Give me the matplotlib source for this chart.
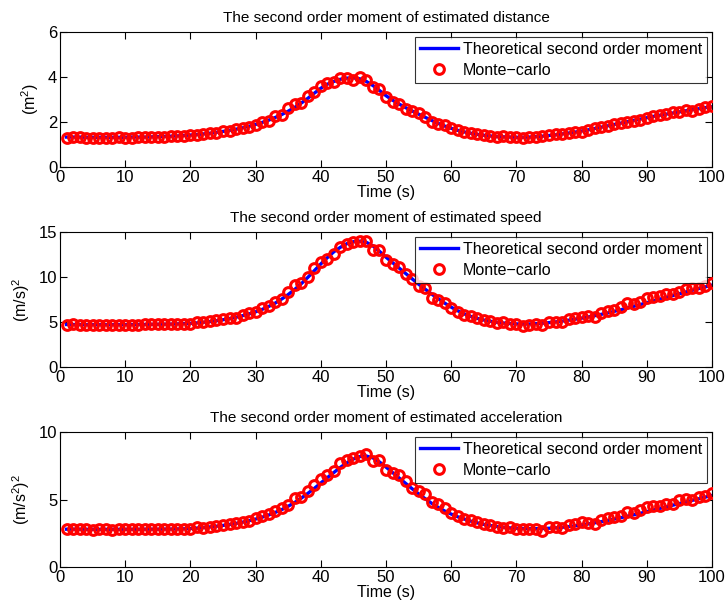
import matplotlib
matplotlib.use("Agg")
import matplotlib.pyplot as plt
import numpy as np

plt.rcParams['font.family'] = ['Liberation Sans', 'DejaVu Sans']
plt.rcParams['mathtext.fontset'] = 'custom'
plt.rcParams['mathtext.rm'] = 'Liberation Sans'
plt.rcParams['mathtext.it'] = 'Liberation Sans'

time_s = list(range(1, 101))

dist_theory = [
    1.33, 1.33, 1.33, 1.32, 1.32, 1.32, 1.32, 1.32, 1.32, 1.32,
    1.33, 1.33, 1.33, 1.34, 1.35, 1.36, 1.37, 1.38, 1.40, 1.42,
    1.44, 1.47, 1.50, 1.54, 1.58, 1.63, 1.68, 1.74, 1.81, 1.89,
    1.98, 2.08, 2.20, 2.33, 2.48, 2.65, 2.84, 3.05, 3.28, 3.50,
    3.68, 3.80, 3.90, 3.95, 3.96, 3.92, 3.80, 3.62, 3.40, 3.17,
    2.97, 2.80, 2.64, 2.49, 2.35, 2.21, 2.07, 1.94, 1.82, 1.72,
    1.63, 1.56, 1.50, 1.45, 1.41, 1.38, 1.35, 1.34, 1.33, 1.32,
    1.32, 1.33, 1.35, 1.37, 1.40, 1.43, 1.47, 1.51, 1.55, 1.60,
    1.65, 1.71, 1.77, 1.83, 1.89, 1.95, 2.01, 2.07, 2.13, 2.19,
    2.25, 2.30, 2.35, 2.40, 2.45, 2.50, 2.55, 2.59, 2.64, 2.68,
]
dist_mc = [
    1.31, 1.33, 1.32, 1.31, 1.29, 1.31, 1.31, 1.30, 1.33, 1.31,
    1.31, 1.32, 1.34, 1.33, 1.35, 1.34, 1.36, 1.39, 1.39, 1.41,
    1.42, 1.46, 1.52, 1.51, 1.58, 1.62, 1.70, 1.72, 1.80, 1.88,
    2.01, 2.05, 2.25, 2.30, 2.62, 2.80, 2.85, 3.15, 3.35, 3.60,
    3.75, 3.78, 3.97, 3.95, 3.85, 4.02, 3.85, 3.55, 3.48, 3.12,
    2.90, 2.80, 2.60, 2.48, 2.38, 2.22, 2.02, 1.92, 1.85, 1.75,
    1.65, 1.55, 1.52, 1.46, 1.43, 1.40, 1.32, 1.37, 1.35, 1.33,
    1.28, 1.34, 1.35, 1.36, 1.42, 1.45, 1.47, 1.53, 1.57, 1.57,
    1.64, 1.72, 1.80, 1.83, 1.92, 1.97, 2.02, 2.06, 2.10, 2.20,
    2.27, 2.30, 2.37, 2.43, 2.45, 2.55, 2.50, 2.57, 2.65, 2.72,
]

speed_theory = [
    4.72, 4.72, 4.71, 4.70, 4.70, 4.70, 4.70, 4.70, 4.70, 4.70,
    4.71, 4.72, 4.73, 4.74, 4.75, 4.76, 4.77, 4.79, 4.82, 4.85,
    4.90, 4.97, 5.05, 5.14, 5.25, 5.38, 5.53, 5.70, 5.90, 6.13,
    6.40, 6.72, 7.10, 7.55, 8.05, 8.62, 9.25, 9.95, 10.70, 11.45,
    12.15, 12.80, 13.30, 13.70, 13.92, 13.98, 13.85, 13.45, 12.85, 12.20,
    11.60, 11.00, 10.40, 9.80, 9.20, 8.65, 8.10, 7.60, 7.10, 6.65,
    6.25, 5.90, 5.62, 5.40, 5.22, 5.08, 4.97, 4.89, 4.83, 4.79,
    4.77, 4.78, 4.81, 4.86, 4.93, 5.01, 5.10, 5.20, 5.31, 5.43,
    5.56, 5.70, 5.85, 6.01, 6.18, 6.36, 6.55, 6.74, 6.94, 7.14,
    7.34, 7.54, 7.74, 7.94, 8.14, 8.34, 8.53, 8.72, 8.91, 9.10,
]
speed_mc = [
    4.70, 4.75, 4.72, 4.70, 4.68, 4.65, 4.72, 4.70, 4.68, 4.72,
    4.70, 4.68, 4.75, 4.80, 4.78, 4.74, 4.76, 4.80, 4.82, 4.75,
    4.95, 4.95, 5.12, 5.20, 5.30, 5.45, 5.50, 5.75, 5.95, 6.10,
    6.55, 6.75, 7.25, 7.60, 8.30, 9.10, 9.30, 10.05, 11.05, 11.70,
    12.00, 12.60, 13.30, 13.70, 13.90, 14.00, 14.00, 13.00, 12.95, 11.90,
    11.45, 11.10, 10.30, 9.75, 9.05, 8.75, 7.70, 7.40, 7.15, 6.55,
    6.15, 5.80, 5.70, 5.40, 5.25, 5.15, 4.90, 4.95, 4.80, 4.75,
    4.60, 4.70, 4.80, 4.65, 4.95, 5.00, 4.95, 5.30, 5.50, 5.60,
    5.70, 5.60, 6.05, 6.25, 6.35, 6.65, 7.10, 6.95, 7.25, 7.65,
    7.80, 7.85, 8.10, 8.15, 8.30, 8.65, 8.80, 8.75, 8.95, 9.30,
]

accel_theory = [
    2.80, 2.80, 2.80, 2.79, 2.79, 2.79, 2.79, 2.79, 2.79, 2.79,
    2.79, 2.79, 2.80, 2.80, 2.80, 2.81, 2.81, 2.82, 2.83, 2.85,
    2.88, 2.92, 2.97, 3.02, 3.08, 3.15, 3.23, 3.32, 3.43, 3.55,
    3.69, 3.85, 4.04, 4.25, 4.50, 4.78, 5.10, 5.45, 5.82, 6.22,
    6.62, 7.00, 7.38, 7.72, 8.00, 8.18, 8.22, 8.08, 7.78, 7.40,
    7.00, 6.60, 6.20, 5.80, 5.42, 5.06, 4.72, 4.42, 4.15, 3.92,
    3.72, 3.55, 3.40, 3.27, 3.16, 3.07, 3.00, 2.94, 2.90, 2.87,
    2.85, 2.84, 2.84, 2.85, 2.87, 2.90, 2.94, 2.99, 3.05, 3.12,
    3.19, 3.27, 3.36, 3.45, 3.55, 3.65, 3.76, 3.87, 3.98, 4.10,
    4.22, 4.34, 4.46, 4.58, 4.70, 4.82, 4.94, 5.06, 5.18, 5.30,
]
accel_mc = [
    2.82, 2.78, 2.80, 2.80, 2.76, 2.78, 2.80, 2.76, 2.80, 2.78,
    2.80, 2.78, 2.80, 2.82, 2.78, 2.80, 2.78, 2.80, 2.82, 2.78,
    2.95, 2.90, 3.00, 3.05, 3.10, 3.15, 3.25, 3.30, 3.40, 3.60,
    3.80, 3.90, 4.15, 4.40, 4.60, 5.10, 5.20, 5.60, 6.10, 6.50,
    6.80, 7.10, 7.70, 7.95, 8.10, 8.20, 8.35, 7.85, 7.90, 7.20,
    7.00, 6.80, 6.40, 5.85, 5.60, 5.40, 4.80, 4.65, 4.40, 4.00,
    3.80, 3.55, 3.45, 3.30, 3.15, 3.10, 3.00, 2.90, 2.95, 2.85,
    2.80, 2.85, 2.85, 2.70, 2.95, 2.95, 2.90, 3.10, 3.20, 3.30,
    3.25, 3.20, 3.50, 3.60, 3.70, 3.80, 4.10, 4.00, 4.20, 4.45,
    4.50, 4.55, 4.65, 4.70, 4.95, 5.05, 4.95, 5.15, 5.25, 5.45,
]

titles = [
    "The second order moment of estimated distance",
    "The second order moment of estimated speed",
    "The second order moment of estimated acceleration",
]
ylabels = ["(m$^2$)", "(m/s)$^2$", "(m/s$^2$)$^2$"]
ylims = [(0, 6), (0, 15), (0, 10)]
yticks = [[0, 2, 4, 6], [0, 5, 10, 15], [0, 5, 10]]
xticks = [0, 10, 20, 30, 40, 50, 60, 70, 80, 90, 100]
theory = [dist_theory, speed_theory, accel_theory]
mc = [dist_mc, speed_mc, accel_mc]

W, H = 725, 605
fig = plt.figure(figsize=(W / 100, H / 100), dpi=100)

axes_px = [(32, 167), (232, 367), (432, 567)]
left_px, right_px = 60, 712

for i in range(3):
    top, bot = axes_px[i]
    ax = fig.add_axes([left_px / W, 1 - bot / H, (right_px - left_px) / W, (bot - top) / H])
    ax.plot(time_s, theory[i], color='#0000ff', lw=2.4, label='Theoretical second order moment', zorder=2)
    ax.plot(time_s, mc[i], linestyle='none', marker='o', ms=7.0, mew=2.2, mec='#ff0000',
            mfc='none', label='Monte\u2212carlo', zorder=3)
    ax.set_xlim(0, 100)
    ax.set_ylim(*ylims[i])
    ax.set_xticks(xticks)
    ax.set_yticks(yticks[i])
    ax.tick_params(direction='in', top=True, right=True, length=5, width=0.8,
                   labelsize=12, pad=2)
    for s in ax.spines.values():
        s.set_linewidth(0.8)
    ax.set_title(titles[i], fontsize=11, pad=7)
    ax.set_xlabel("Time (s)", fontsize=11.5, labelpad=0.5)
    ax.set_ylabel(ylabels[i], fontsize=11.5, labelpad=5)
    leg = ax.legend(loc='upper right', fontsize=11.5, frameon=True, fancybox=False,
                    edgecolor='black', handlelength=2.4, borderaxespad=0.3,
                    borderpad=0.3, labelspacing=0.4, handletextpad=0.3)
    leg.get_frame().set_linewidth(0.8)

fig.savefig("out.png", dpi=100)
